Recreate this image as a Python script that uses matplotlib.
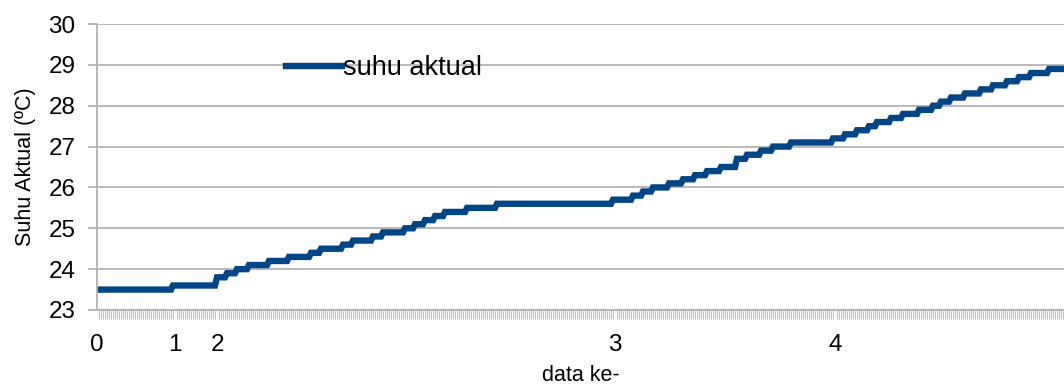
"""Suhu aktual chart: stepwise temperature readings per sample index."""

import matplotlib

matplotlib.use("Agg")
import matplotlib.pyplot as plt  # noqa: E402
import numpy as np  # noqa: E402

# Readings change in 0.1 steps; each entry is (sample index where a new value starts, value).
N_POINTS = 484
step_start = [0, 38, 60, 65, 70, 76, 86, 96, 107, 112, 123, 128, 138, 143,
              154, 159, 164, 169, 174, 185, 200, 258, 268, 273, 278, 286,
              293, 299, 305, 312, 320, 325, 332, 338, 347, 368, 374, 380,
              386, 390, 397, 403, 411, 418, 422, 427, 434, 442, 448, 455,
              461, 467, 476]
step_value = [23.5, 23.6, 23.8, 23.9, 24.0, 24.1, 24.2, 24.3, 24.4, 24.5,
              24.6, 24.7, 24.8, 24.9, 25.0, 25.1, 25.2, 25.3, 25.4, 25.5,
              25.6, 25.7, 25.8, 25.9, 26.0, 26.1, 26.2, 26.3, 26.4, 26.5,
              26.7, 26.8, 26.9, 27.0, 27.1, 27.2, 27.3, 27.4, 27.5, 27.6,
              27.7, 27.8, 27.9, 28.0, 28.1, 28.2, 28.3, 28.4, 28.5, 28.6,
              28.7, 28.8, 28.9]

# category labels that appear under the axis
label_pos = [0, 39, 60, 259, 369]
label_text = ["0", "1", "2", "3", "4"]

y_ticks = [23, 24, 25, 26, 27, 28, 29, 30]

LINE = "#004586"
GRID = "#b3b3b3"

plt.rcParams["font.family"] = ["Liberation Sans", "DejaVu Sans"]

run_len = np.diff(step_start + [N_POINTS])
suhu = np.repeat(step_value, run_len)
idx = np.arange(N_POINTS)

fig = plt.figure(figsize=(10.64, 3.9), dpi=100)
ax = fig.add_axes([97 / 1064, 1 - 310 / 390, 1 - 97 / 1064, 286 / 390])

ax.plot(idx, suhu, color=LINE, lw=4.6, solid_joinstyle="miter", label="suhu aktual")

ax.set_xlim(0, N_POINTS - 0.5)
ax.set_ylim(23, 30)
ax.set_yticks(y_ticks)
ax.set_xticks(label_pos)
ax.set_xticklabels(label_text)
ax.set_xticks(idx, minor=True)

ax.grid(axis="y", color=GRID, lw=1.3)
ax.set_axisbelow(True)
for side in ("top", "right"):
    ax.spines[side].set_visible(False)
for side in ("left", "bottom"):
    ax.spines[side].set_color(GRID)
    ax.spines[side].set_linewidth(1.3)

ax.tick_params(axis="y", length=6.5, width=1.3, color=GRID, labelsize=17.5, pad=9)
ax.tick_params(axis="x", which="major", length=0, labelsize=17.5, pad=17)
ax.tick_params(axis="x", which="minor", length=6.5, width=0.7, color="#bdbdbd")

ax.set_ylabel("Suhu Aktual (ºC)", fontsize=15.5, labelpad=9)
ax.set_xlabel("data ke-", fontsize=15.5, labelpad=7)

ax.legend(loc="center left", bbox_to_anchor=((286 - 97) / 967, (310 - 68) / 286),
          frameon=False, fontsize=19.5, handlelength=2.05, handletextpad=0.05,
          borderaxespad=0, borderpad=0)

fig.savefig("out.png", dpi=100)
plt.close(fig)
